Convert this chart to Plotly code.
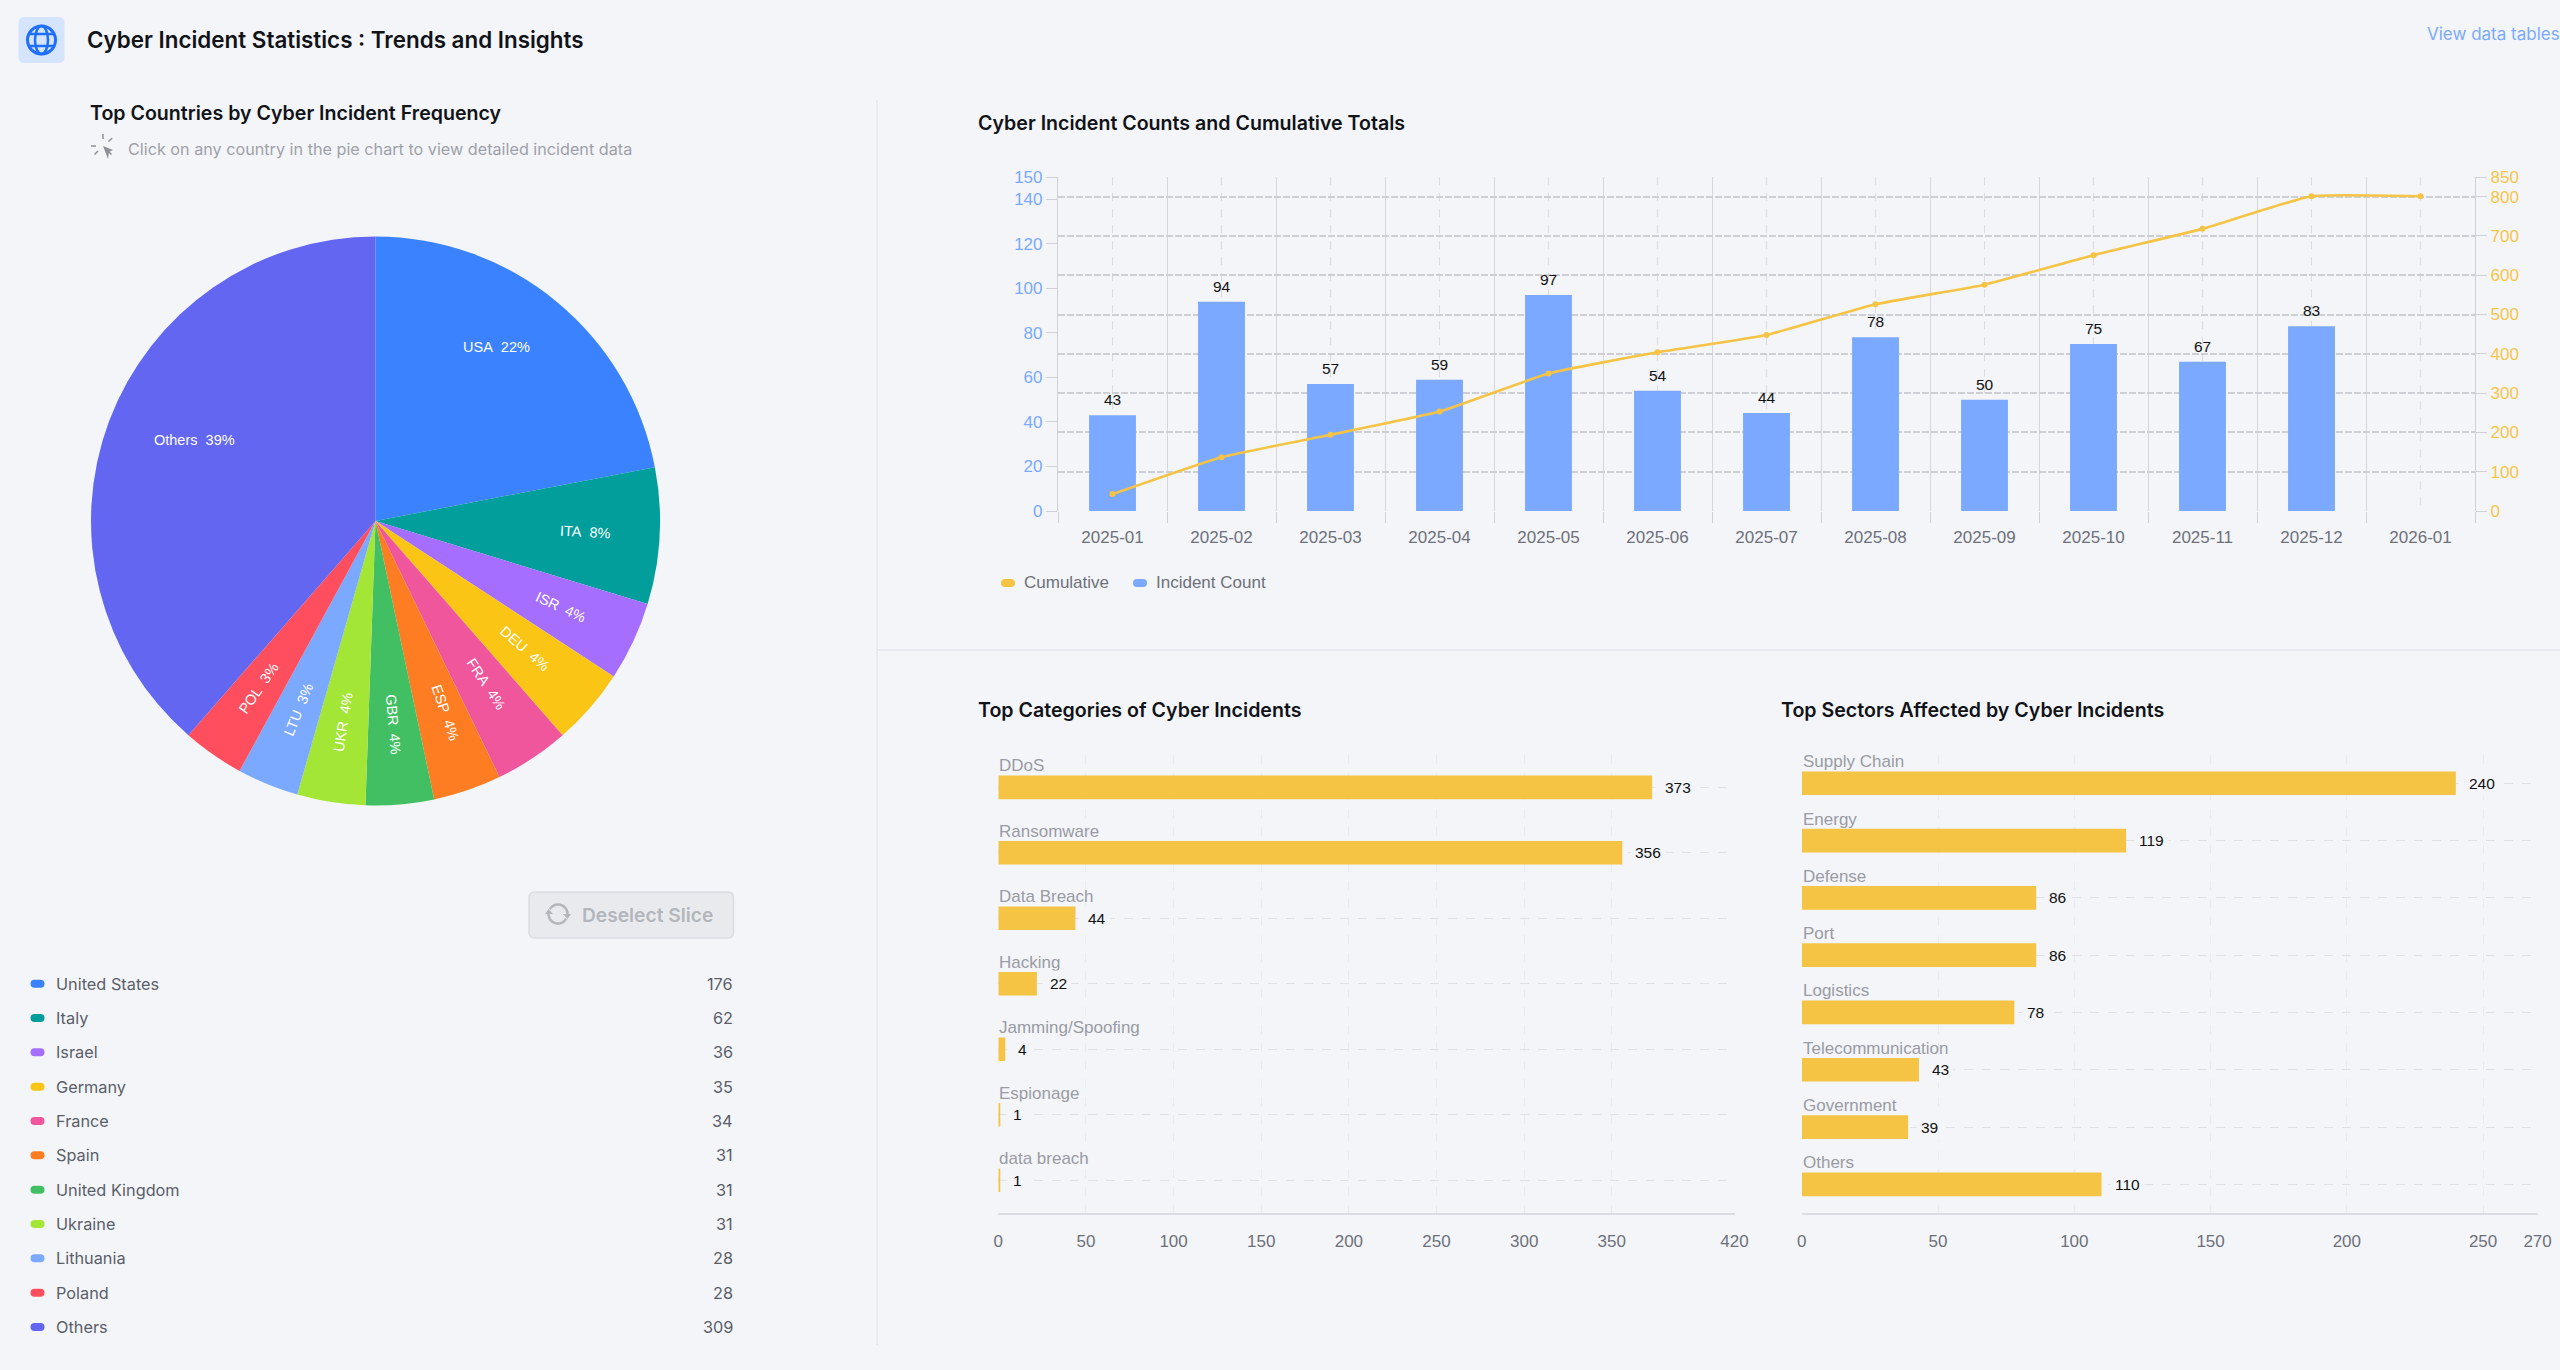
import math
import plotly.graph_objects as go

W, H = 2560, 1370
BG = "#F3F5F9"
UI_FONT = "Inter"
CHART_FONT = "Liberation Sans"

# Pie and list data
country_names = ["United States", "Italy", "Israel", "Germany", "France", "Spain",
                 "United Kingdom", "Ukraine", "Lithuania", "Poland", "Others"]
country_codes = ["USA", "ITA", "ISR", "DEU", "FRA", "ESP", "GBR", "UKR", "LTU", "POL", "Others"]
country_counts = [176, 62, 36, 35, 34, 31, 31, 31, 28, 28, 309]
country_colors = ["#3A82FF", "#029E9C", "#A56EFF", "#FAC515", "#F0569B", "#FF7D22",
                  "#42BF63", "#A3E635", "#7AA9FF", "#FF4F5E", "#6366F1"]

# Monthly counts
months = ["2025-01", "2025-02", "2025-03", "2025-04", "2025-05", "2025-06", "2025-07",
          "2025-08", "2025-09", "2025-10", "2025-11", "2025-12", "2026-01"]
incident_counts = [43, 94, 57, 59, 97, 54, 44, 78, 50, 75, 67, 83, None]
cumulative = [43, 137, 194, 253, 350, 404, 448, 526, 576, 651, 718, 801, 801]
count_ticks = [0, 20, 40, 60, 80, 100, 120, 140, 150]
cumulative_ticks = [0, 100, 200, 300, 400, 500, 600, 700, 800, 850]

# Categories
category_names = ["DDoS", "Ransomware", "Data Breach", "Hacking", "Jamming/Spoofing", "Espionage", "data breach"]
category_counts = [373, 356, 44, 22, 4, 1, 1]
category_ticks = [0, 50, 100, 150, 200, 250, 300, 350, 420]

# Sectors
sector_names = ["Supply Chain", "Energy", "Defense", "Port", "Logistics", "Telecommunication", "Government", "Others"]
sector_counts = [240, 119, 86, 86, 78, 43, 39, 110]
sector_ticks = [0, 50, 100, 150, 200, 250, 270]

BLUE = "#7AA9FF"
YELLOW = "#F6C445"
GREY_TEXT = "#6E7079"


def X(p):
    return p / W


def Y(p):
    return 1 - p / H


annotations = []
shapes = []


def add_text(x, y, text, size=17, color="#111318", font=UI_FONT, weight=400, anchor="left"):
    annotations.append(dict(x=X(x), y=Y(y), xref="paper", yref="paper", text=text, showarrow=False,
                            xanchor=anchor, yanchor="middle", borderpad=0,
                            font=dict(family=font, size=size, color=color, weight=weight)))


def rounded_rect(x0, y0, x1, y1, r):
    # path in paper coordinates
    return (f"M {X(x0 + r)} {Y(y0)} L {X(x1 - r)} {Y(y0)} Q {X(x1)} {Y(y0)} {X(x1)} {Y(y0 + r)} "
            f"L {X(x1)} {Y(y1 - r)} Q {X(x1)} {Y(y1)} {X(x1 - r)} {Y(y1)} "
            f"L {X(x0 + r)} {Y(y1)} Q {X(x0)} {Y(y1)} {X(x0)} {Y(y1 - r)} "
            f"L {X(x0)} {Y(y0 + r)} Q {X(x0)} {Y(y0)} {X(x0 + r)} {Y(y0)} Z")


def add_path(path, fill="rgba(0,0,0,0)", line=None, width=0):
    shapes.append(dict(type="path", path=path, xref="paper", yref="paper", fillcolor=fill,
                       line=dict(color=line or fill, width=width), layer="above"))


def add_line(x0, y0, x1, y1, color, width=1):
    shapes.append(dict(type="line", x0=X(x0), y0=Y(y0), x1=X(x1), y1=Y(y1), xref="paper", yref="paper",
                       line=dict(color=color, width=width), layer="above"))


def add_circle(cx, cy, rx, ry, color, width):
    shapes.append(dict(type="circle", x0=X(cx - rx), x1=X(cx + rx), y0=Y(cy - ry), y1=Y(cy + ry),
                       xref="paper", yref="paper", line=dict(color=color, width=width), layer="above"))


def arc_path(cx, cy, r, start, end, steps=14):
    pts = []
    for i in range(steps + 1):
        a = math.radians(start + (end - start) * i / steps)
        pts.append(f"{X(cx + r * math.sin(a))} {Y(cy - r * math.cos(a))}")
    return "M " + " L ".join(pts)


def add_chip(x, y, color):
    add_path(rounded_rect(x, y - 4, x + 14, y + 4, 4), fill=color)


fig = go.Figure()

# ---- pie ----
PIE_CX, PIE_CY, PIE_R = 375.5, 521, 284.5
fig.add_trace(go.Pie(
    values=country_counts,
    labels=country_codes,
    marker=dict(colors=country_colors, line=dict(width=0)),
    sort=False,
    direction="clockwise",
    rotation=0,
    textinfo="none",
    showlegend=False,
    domain=dict(x=[X(PIE_CX - PIE_R), X(PIE_CX + PIE_R)], y=[Y(PIE_CY + PIE_R), Y(PIE_CY - PIE_R)]),
))

# slice labels sit on a ring, big slices stay horizontal
total = sum(country_counts)
label_nudge = {"USA": (-9, -17), "Others": (10, -9), "ITA": (6, 0), "DEU": (-4, -6), "FRA": (-2, -7), "ESP": (4, -1)}
start = 0
for code, count in zip(country_codes, country_counts):
    sweep = count / total * 360
    mid = start + sweep / 2
    start += sweep
    a = math.radians(mid)
    dx, dy = label_nudge.get(code, (0, 0))
    if count / total >= 0.2:
        angle = 0
    elif mid < 180:
        angle = mid - 90
    else:
        angle = mid + 90 - 360
    annotations.append(dict(
        x=X(PIE_CX + 204 * math.sin(a) + dx), y=Y(PIE_CY - 204 * math.cos(a) + dy),
        xref="paper", yref="paper", showarrow=False, textangle=angle,
        xanchor="center", yanchor="middle",
        text=f"{code}\u00a0\u00a0{round(count / total * 100)}%",
        font=dict(family=CHART_FONT, size=14.5, color="#FFFFFF"),
    ))

# ---- monthly bars + cumulative line ----
fig.add_trace(go.Bar(
    x=months, y=incident_counts, width=0.43, marker=dict(color=BLUE, line=dict(width=0)),
    xaxis="x", yaxis="y", showlegend=False,
))
fig.add_trace(go.Scatter(
    x=months, y=cumulative, mode="lines+markers",
    line=dict(color=YELLOW, width=2.6, shape="spline", smoothing=0.4),
    marker=dict(color=YELLOW, size=6),
    xaxis="x2", yaxis="y2", showlegend=False,
))
for month, count in zip(months, incident_counts):
    if count is None:
        continue
    annotations.append(dict(x=month, y=count, xref="x", yref="y", text=str(count), showarrow=False,
                            xanchor="center", yanchor="middle", yshift=15.5, borderpad=0,
                            font=dict(family=CHART_FONT, size=15.5, color="#111111")))

# ---- categories ----
fig.add_trace(go.Bar(
    x=category_counts, y=category_names, orientation="h", width=0.36,
    marker=dict(color=YELLOW, line=dict(width=0)), xaxis="x3", yaxis="y3", showlegend=False,
))

# ---- sectors ----
fig.add_trace(go.Bar(
    x=sector_counts, y=sector_names, orientation="h", width=0.414,
    marker=dict(color=YELLOW, line=dict(width=0)), xaxis="x4", yaxis="y4", showlegend=False,
))


def hbar_labels(names, counts, xref, yref):
    for name, count in zip(names, counts):
        annotations.append(dict(x=0, y=name, xref=xref, yref=yref, text=name, showarrow=False,
                                xanchor="left", yanchor="middle", yshift=21.5, borderpad=0,
                                font=dict(family=CHART_FONT, size=17, color="#9A9BA3")))
        annotations.append(dict(x=count, y=name, xref=xref, yref=yref, text=str(count), showarrow=False,
                                xanchor="left", yanchor="middle", xshift=8, borderpad=4, bgcolor=BG,
                                font=dict(family=CHART_FONT, size=15.5, color="#111111")))


hbar_labels(category_names, category_counts, "x3", "y3")
hbar_labels(sector_names, sector_counts, "x4", "y4")

# ---- page furniture ----
add_path(rounded_rect(18.5, 17, 64.5, 63, 6), fill="#D6E5FF")
ICON = "#1F6FFF"
add_circle(41.5, 40, 14, 14, ICON, 3)
add_circle(41.5, 40, 6.5, 14, ICON, 2.5)
add_line(28.5, 34, 54.5, 34, ICON, 2.5)
add_line(28.5, 46, 54.5, 46, ICON, 2.5)

add_text(85.5, 40, "Cyber Incident Statistics : Trends and Insights", size=22.4, weight=600)
add_text(2426, 34, "View data tables", size=17, color="#7AAAFF")
add_text(89, 113, "Top Countries by Cyber Incident Frequency", size=19.6, weight=600)
add_text(127, 149, "Click on any country in the pie chart to view detailed incident data", size=16.2, color="#A0A1A8")

# click icon
CLICK = "#8E9097"
for ang in [0, 50, 270, 225, 135]:
    a = math.radians(ang)
    add_line(103 + 7 * math.sin(a), 146 - 7 * math.cos(a), 103 + 12 * math.sin(a), 146 - 12 * math.cos(a), CLICK, 1.5)
add_path(f"M {X(103)} {Y(146)} L {X(113)} {Y(150)} L {X(109)} {Y(152)} L {X(108)} {Y(159)} Z", fill=CLICK)

add_text(977, 123, "Cyber Incident Counts and Cumulative Totals", size=19.6, weight=600)
add_text(977, 710, "Top Categories of Cyber Incidents", size=19.6, weight=600)
add_text(1780, 710, "Top Sectors Affected by Cyber Incidents", size=19.6, weight=600)

add_line(877, 100, 877, 1345, "#E4E6EB", 1.5)
add_line(877, 650, 2560, 650, "#E4E6EB", 1.5)

# line/bar legend
add_chip(1001, 583, YELLOW)
add_text(1023, 583, "Cumulative", size=17, color=GREY_TEXT, font=CHART_FONT)
add_chip(1133, 583, BLUE)
add_text(1155, 583, "Incident Count", size=17, color=GREY_TEXT, font=CHART_FONT)

# deselect button
REFRESH = "#B3B6BB"
add_path(rounded_rect(529, 892, 733.5, 938, 6), fill="#E9EAEE", line="#DADCE1", width=1.5)
add_text(581, 915, "Deselect Slice", size=19.2, color=REFRESH, weight=600)
add_path(arc_path(558, 914, 9.5, -60, 100), line=REFRESH, width=2.5)
add_path(arc_path(558, 914, 9.5, 120, 280), line=REFRESH, width=2.5)
add_path(f"M {X(563)} {Y(914)} L {X(571)} {Y(914)} L {X(567.5)} {Y(919)} Z", fill=REFRESH)
add_path(f"M {X(545)} {Y(914)} L {X(553)} {Y(914)} L {X(548.5)} {Y(909)} Z", fill=REFRESH)

# country list
for i, (name, count, color) in enumerate(zip(country_names, country_counts, country_colors)):
    row_y = 983.7 + i * 34.33
    add_chip(30.5, row_y, color)
    add_text(55, row_y, name, size=16.3, color="#5A5E68")
    add_text(734, row_y, str(count), size=16.3, color="#5A5E68", anchor="right")

GRID = "#CDCFD4"
AXIS = "#CFD1D6"
BAR_X = [X(1058), X(2475)]
BAR_Y = [Y(511), Y(177)]

fig.update_layout(
    width=W, height=H,
    margin=dict(l=0, r=0, t=0, b=0),
    paper_bgcolor=BG, plot_bgcolor=BG,
    showlegend=False,
    annotations=annotations,
    shapes=shapes,
    xaxis=dict(domain=BAR_X, anchor="y", type="category", categoryorder="array", categoryarray=months,
               range=[-0.5, 12.5], tickson="boundaries", ticks="outside", ticklen=11, tickcolor=AXIS,
               showgrid=True, gridcolor="#D5D7DB", gridwidth=1.2, showline=False, zeroline=False,
               automargin=False, ticklabelstandoff=14,
               tickfont=dict(family=CHART_FONT, size=17, color=GREY_TEXT)),
    xaxis2=dict(domain=BAR_X, anchor="y2", overlaying="x", type="category", categoryorder="array", categoryarray=months,
                range=[-0.5, 12.5], showticklabels=False, ticks="", showgrid=True, griddash="8px,8px",
                gridcolor="#DADCE0", gridwidth=1.2, zeroline=False, automargin=False),
    yaxis=dict(domain=BAR_Y, anchor="x", range=[0, 150], tickmode="array", tickvals=count_ticks,
               ticks="outside", ticklen=11, tickcolor=AXIS, showgrid=False, zeroline=False,
               showline=True, linecolor=AXIS, linewidth=1.2, automargin=False,
               tickfont=dict(family=CHART_FONT, size=17, color=BLUE)),
    yaxis2=dict(domain=BAR_Y, anchor="x2", overlaying="y", side="right", range=[0, 850], tickmode="array",
                tickvals=cumulative_ticks, ticks="outside", ticklen=11, tickcolor=AXIS,
                showgrid=True, griddash="7px,2px", gridcolor=GRID, gridwidth=1.5, zeroline=False,
                showline=True, linecolor=AXIS, linewidth=1.2, automargin=False,
                tickfont=dict(family=CHART_FONT, size=17, color="#F7C548")),
    xaxis3=dict(domain=[X(998.3), X(1734.5)], anchor="y3", range=[0, 420], tickmode="array", tickvals=category_ticks,
                showgrid=True, griddash="dash", gridcolor="#E9EBEE", gridwidth=1, zeroline=False,
                showline=True, linecolor="#DADCE1", linewidth=2, ticks="", ticklabelstandoff=12, automargin=False,
                tickfont=dict(family=CHART_FONT, size=17, color=GREY_TEXT)),
    yaxis3=dict(domain=[Y(1213), Y(754.6)], anchor="x3", type="category", categoryorder="array",
                categoryarray=category_names, range=[len(category_names) - 0.5, -0.5], showticklabels=False, ticks="",
                showgrid=True, griddash="dash", gridcolor="#DFE1E5", gridwidth=1.2, zeroline=False, automargin=False),
    xaxis4=dict(domain=[X(1801.8), X(2537.6)], anchor="y4", range=[0, 270], tickmode="array", tickvals=sector_ticks,
                showgrid=True, griddash="dash", gridcolor="#E9EBEE", gridwidth=1, zeroline=False,
                showline=True, linecolor="#DADCE1", linewidth=2, ticks="", ticklabelstandoff=12, automargin=False,
                tickfont=dict(family=CHART_FONT, size=17, color=GREY_TEXT)),
    yaxis4=dict(domain=[Y(1213), Y(754.6)], anchor="x4", type="category", categoryorder="array",
                categoryarray=sector_names, range=[len(sector_names) - 0.5, -0.5], showticklabels=False, ticks="",
                showgrid=True, griddash="dash", gridcolor="#DFE1E5", gridwidth=1.2, zeroline=False, automargin=False),
)

fig.write_html("out.html", config={"displayModeBar": False},
               post_script="document.body.style.margin='0';document.body.style.overflow='hidden';")
